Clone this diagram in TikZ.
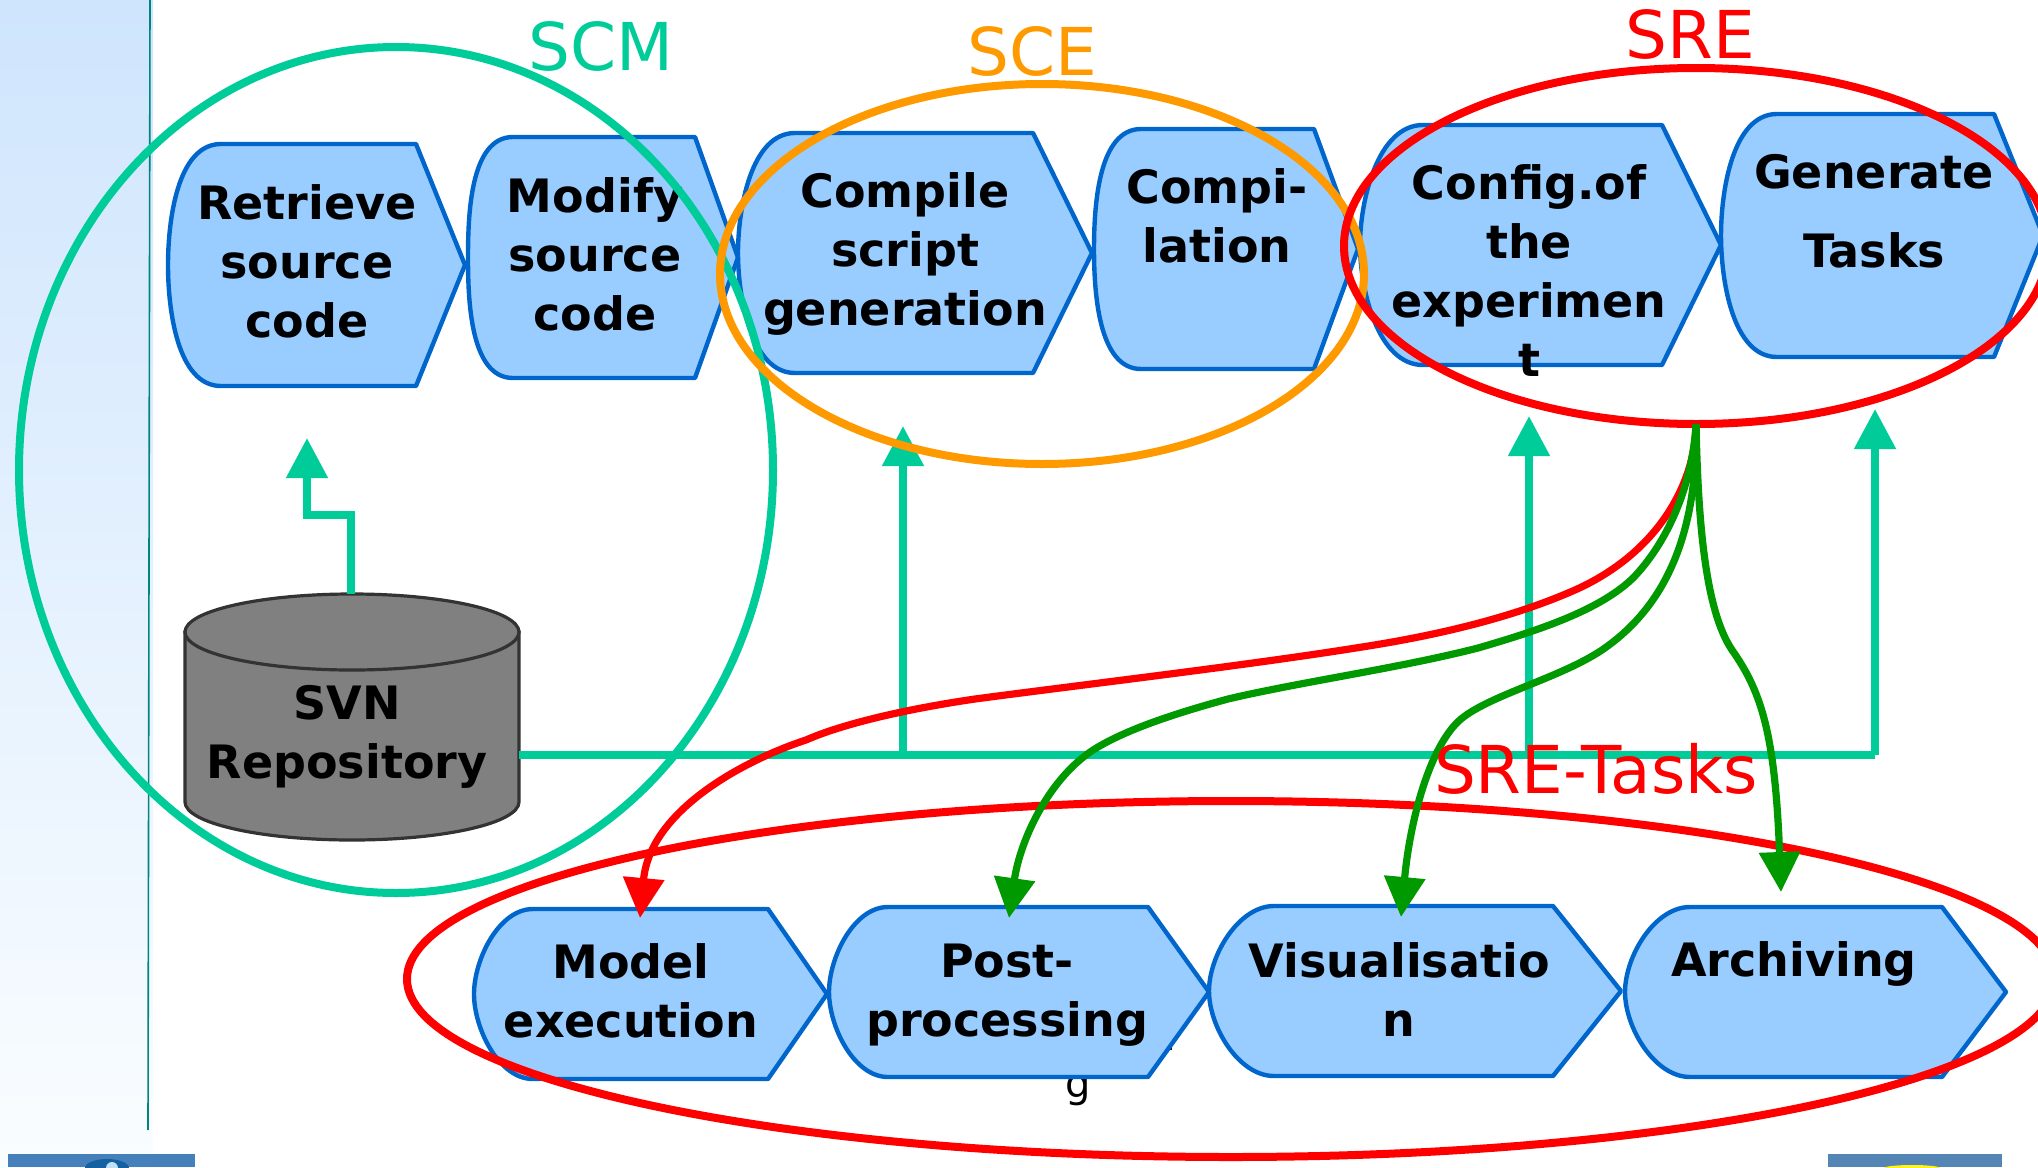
\documentclass[tikz,border=0pt]{standalone}
\usepackage{fontspec}
\setmainfont{DejaVu Sans}
\usetikzlibrary{arrows.meta, shapes.geometric}

\definecolor{stepfill}{HTML}{99CCFF}
\definecolor{stepline}{HTML}{0066CC}
\definecolor{scmgreen}{HTML}{00CC99}
\definecolor{sceorange}{HTML}{FF9900}
\definecolor{taskgreen}{HTML}{009900}
\definecolor{panelrule}{HTML}{00857C}

\tikzset{
    stepshape/.style = {draw = stepline, fill = stepfill, line width = 2.2pt, line join = round},
    steptext/.style = {font = \bfseries\fontsize{23}{29.5}\selectfont, align = center, inner sep = 0pt},
    grouplabel/.style = {font = \fontsize{33}{33}\selectfont, anchor = base, inner sep = 0pt},
    groupoval/.style = {ellipse, draw, line width = 4pt, inner sep = 0pt, outer sep = 0pt},
    scmlink/.style = {draw = scmgreen, line width = 4pt},
    scmarrow/.style = {scmlink, -{Triangle[length = 20pt, width = 20pt]}},
    taskarrow/.style = {line width = 3.6pt, -{Triangle[length = 20pt, width = 20pt]}},
}

\newcommand{\stepbox}[6]{
    \pgfmathsetmacro{\midy}{(#5 + #6) / 2}
    \draw[stepshape] (#2, #5) to[out = 180, in = 90, looseness = 0.85] (#1, \midy)
        to[out = -90, in = 180, looseness = 0.85] (#2, #6)
        -- (#3, #6) -- (#4, \midy) -- (#3, #5) -- cycle;
}

\begin{document}
\begin{tikzpicture}[x = 0.5pt, y = -0.5pt]
    \clip (0, 0) rectangle (2038, 1167);

    \shade[top color = {rgb,255:red,207;green,229;blue,253}, bottom color = {rgb,255:red,250;green,253;blue,255}] (0, 0) rectangle (153, 1167);
    \draw[panelrule, line width = 0.8pt] (150, 0) -- (148, 1130);
    \fill[color = {rgb,255:red,70;green,128;blue,187}] (8, 1154) rectangle (195, 1167);
    \fill[color = {rgb,255:red,21;green,96;blue,160}] (107, 1168) ellipse [x radius = 22, y radius = 9];
    \fill[color = {rgb,255:red,190;green,225;blue,245}] (112, 1168) ellipse [x radius = 6, y radius = 6];
    \fill[color = {rgb,255:red,85;green,133;blue,181}] (1828, 1154) rectangle (2002, 1167);
    \fill[color = yellow!90!white] (1912, 1168) ellipse [x radius = 28, y radius = 3];

    \node[font = \fontsize{20}{20}\selectfont, anchor = base, inner sep = 0pt] (strayg) at (1078, 1097) {g};
    \fill (1165, 1045) rectangle (1172, 1050);

    \stepbox{168}{221}{416}{465}{144}{386}
    \stepbox{468}{513}{695}{738}{137}{378}
    \stepbox{738}{795}{1033}{1092}{133}{373}
    \stepbox{1094}{1141}{1314}{1358}{129}{369}
    \stepbox{1360}{1423}{1662}{1721}{125}{365}
    \stepbox{1721}{1777}{1994}{2043}{114}{357}
    \stepbox{474}{533}{768}{827}{909}{1079}
    \stepbox{829}{888}{1148}{1209}{907}{1077}
    \stepbox{1209}{1274}{1553}{1621}{906}{1076}
    \stepbox{1625}{1690}{1942}{2006}{907}{1077}

    \node[steptext] (retrieve) at (307, 261) {Retrieve\\source\\code};
    \node[steptext] (modify) at (595, 254) {Modify\\source\\code};
    \node[steptext] (compile) at (905, 254) {Compile\\script\\generation};
    \node[steptext] (compilation) at (1217, 216) {Compi-\\lation};
    \node[steptext] (config) at (1529, 271) {Config.of\\the\\experimen\\t};
    \node[steptext] (generate) at (1874, 211) {Generate\\[10pt]Tasks};
    \node[steptext] (model) at (631, 991) {Model\\execution};
    \node[steptext] (post) at (1007, 995) {Post-\\processing};
    \node[steptext] (visual) at (1399, 990) {Visualisatio\\n};
    \node[steptext] (archive) at (1794, 964) {Archiving};

    \draw[draw = black!80, fill = gray, line width = 1.6pt] (185, 632) -- (185, 802)
        arc[start angle = 180, end angle = 0, x radius = 167, y radius = 38] -- (519, 632) -- cycle;
    \draw[draw = black!80, fill = gray, line width = 1.6pt] (352, 632) ellipse [x radius = 167, y radius = 38];
    \coordinate (svntop) at (351, 594);
    \coordinate (svnright) at (519, 755);
    \node[steptext] (svnrepo) at (347, 737) {SVN\\Repository};

    \coordinate (retrievetip) at (307, 438);
    \coordinate (compiletip) at (903, 426);
    \coordinate (configtip) at (1529, 416);
    \coordinate (generatetip) at (1875, 409);
    \coordinate (busend) at (1875, 755);
    \coordinate (modeltip) at (640, 918);
    \coordinate (posttip) at (1009, 918);
    \coordinate (visualtip) at (1401, 917);
    \coordinate (archivetip) at (1781, 892);

    \draw[scmarrow] (svntop) -- (351, 515) -- (307, 515) -- (retrievetip);
    \draw[scmlink] (svnright) -- (busend);
    \draw[scmarrow] (compiletip |- busend) -- (compiletip);
    \draw[scmarrow] (configtip |- busend) -- (configtip);
    \draw[scmarrow] (busend) -- (generatetip);

    \node[groupoval, draw = scmgreen, minimum width = 377pt, minimum height = 423pt] (scmoval) at (396, 470) {};
    \node[groupoval, draw = sceorange, minimum width = 322pt, minimum height = 190pt] (sceoval) at (1042, 274) {};
    \node[groupoval, draw = red, minimum width = 352pt, minimum height = 178pt] (sreoval) at (1696, 246) {};
    \node[groupoval, draw = red, minimum width = 824pt, minimum height = 178pt] (taskoval) at (1231, 979) {};

    \draw[taskarrow, red] (sreoval.south) .. controls (1696, 480) and (1660, 555) .. (1568, 593)
        .. controls (1500, 622) and (1420, 638) .. (1362, 647)
        .. controls (1250, 665) and (1080, 685) .. (975, 699)
        .. controls (900, 710) and (840, 725) .. (806, 740)
        .. controls (745, 760) and (650, 810) .. (modeltip);
    \draw[taskarrow, taskgreen] (sreoval.south) .. controls (1692, 490) and (1665, 545) .. (1633, 578)
        .. controls (1600, 610) and (1540, 630) .. (1478, 648)
        .. controls (1400, 668) and (1300, 682) .. (1228, 699)
        .. controls (1180, 712) and (1130, 728) .. (1098, 747)
        .. controls (1050, 775) and (1020, 840) .. (posttip);
    \draw[taskarrow, taskgreen] (sreoval.south) .. controls (1698, 530) and (1668, 605) .. (1602, 650)
        .. controls (1560, 678) and (1490, 695) .. (1461, 719)
        .. controls (1430, 745) and (1410, 820) .. (visualtip);
    \draw[taskarrow, taskgreen] (sreoval.south) .. controls (1698, 520) and (1705, 610) .. (1732, 650)
        .. controls (1760, 690) and (1775, 730) .. (archivetip);

    \node[grouplabel, scmgreen] (scmlabel) at (601, 70) {SCM};
    \node[grouplabel, sceorange] (scelabel) at (1032, 75) {SCE};
    \node[grouplabel, red] (srelabel) at (1690, 58) {SRE};
    \node[grouplabel, red] (tasklabel) at (1596, 793) {SRE-Tasks};
\end{tikzpicture}
\end{document}
